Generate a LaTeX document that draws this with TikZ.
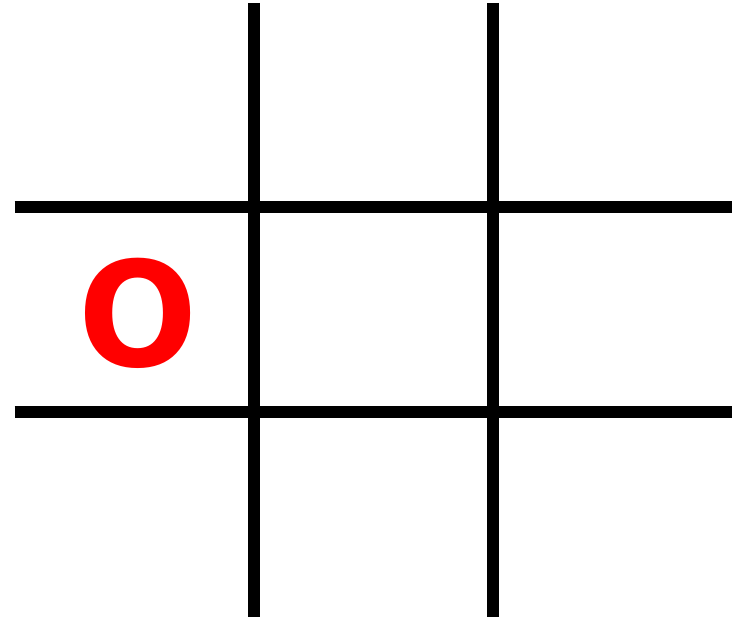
\documentclass[tikz,border=0pt]{standalone}
\usepackage{fontspec}
\setmainfont{DejaVu Sans}
\begin{document}
\begin{tikzpicture}[x=1pt,y=-1pt,
  gridline/.style={line width=12pt,black,line cap=butt}]
\useasboundingbox (0,0) rectangle (732,620);
\draw[gridline] (254,3) -- (254,617);
\draw[gridline] (493,3) -- (493,617);
\draw[gridline] (14.5,207) -- (732,207);
\draw[gridline] (14.5,412) -- (732,412);
\node[anchor=base,inner sep=0pt,text=red,xscale=0.96,font=\fontsize{146}{146}\selectfont\bfseries] (o) at (138,367) {O};
\end{tikzpicture}
\end{document}
